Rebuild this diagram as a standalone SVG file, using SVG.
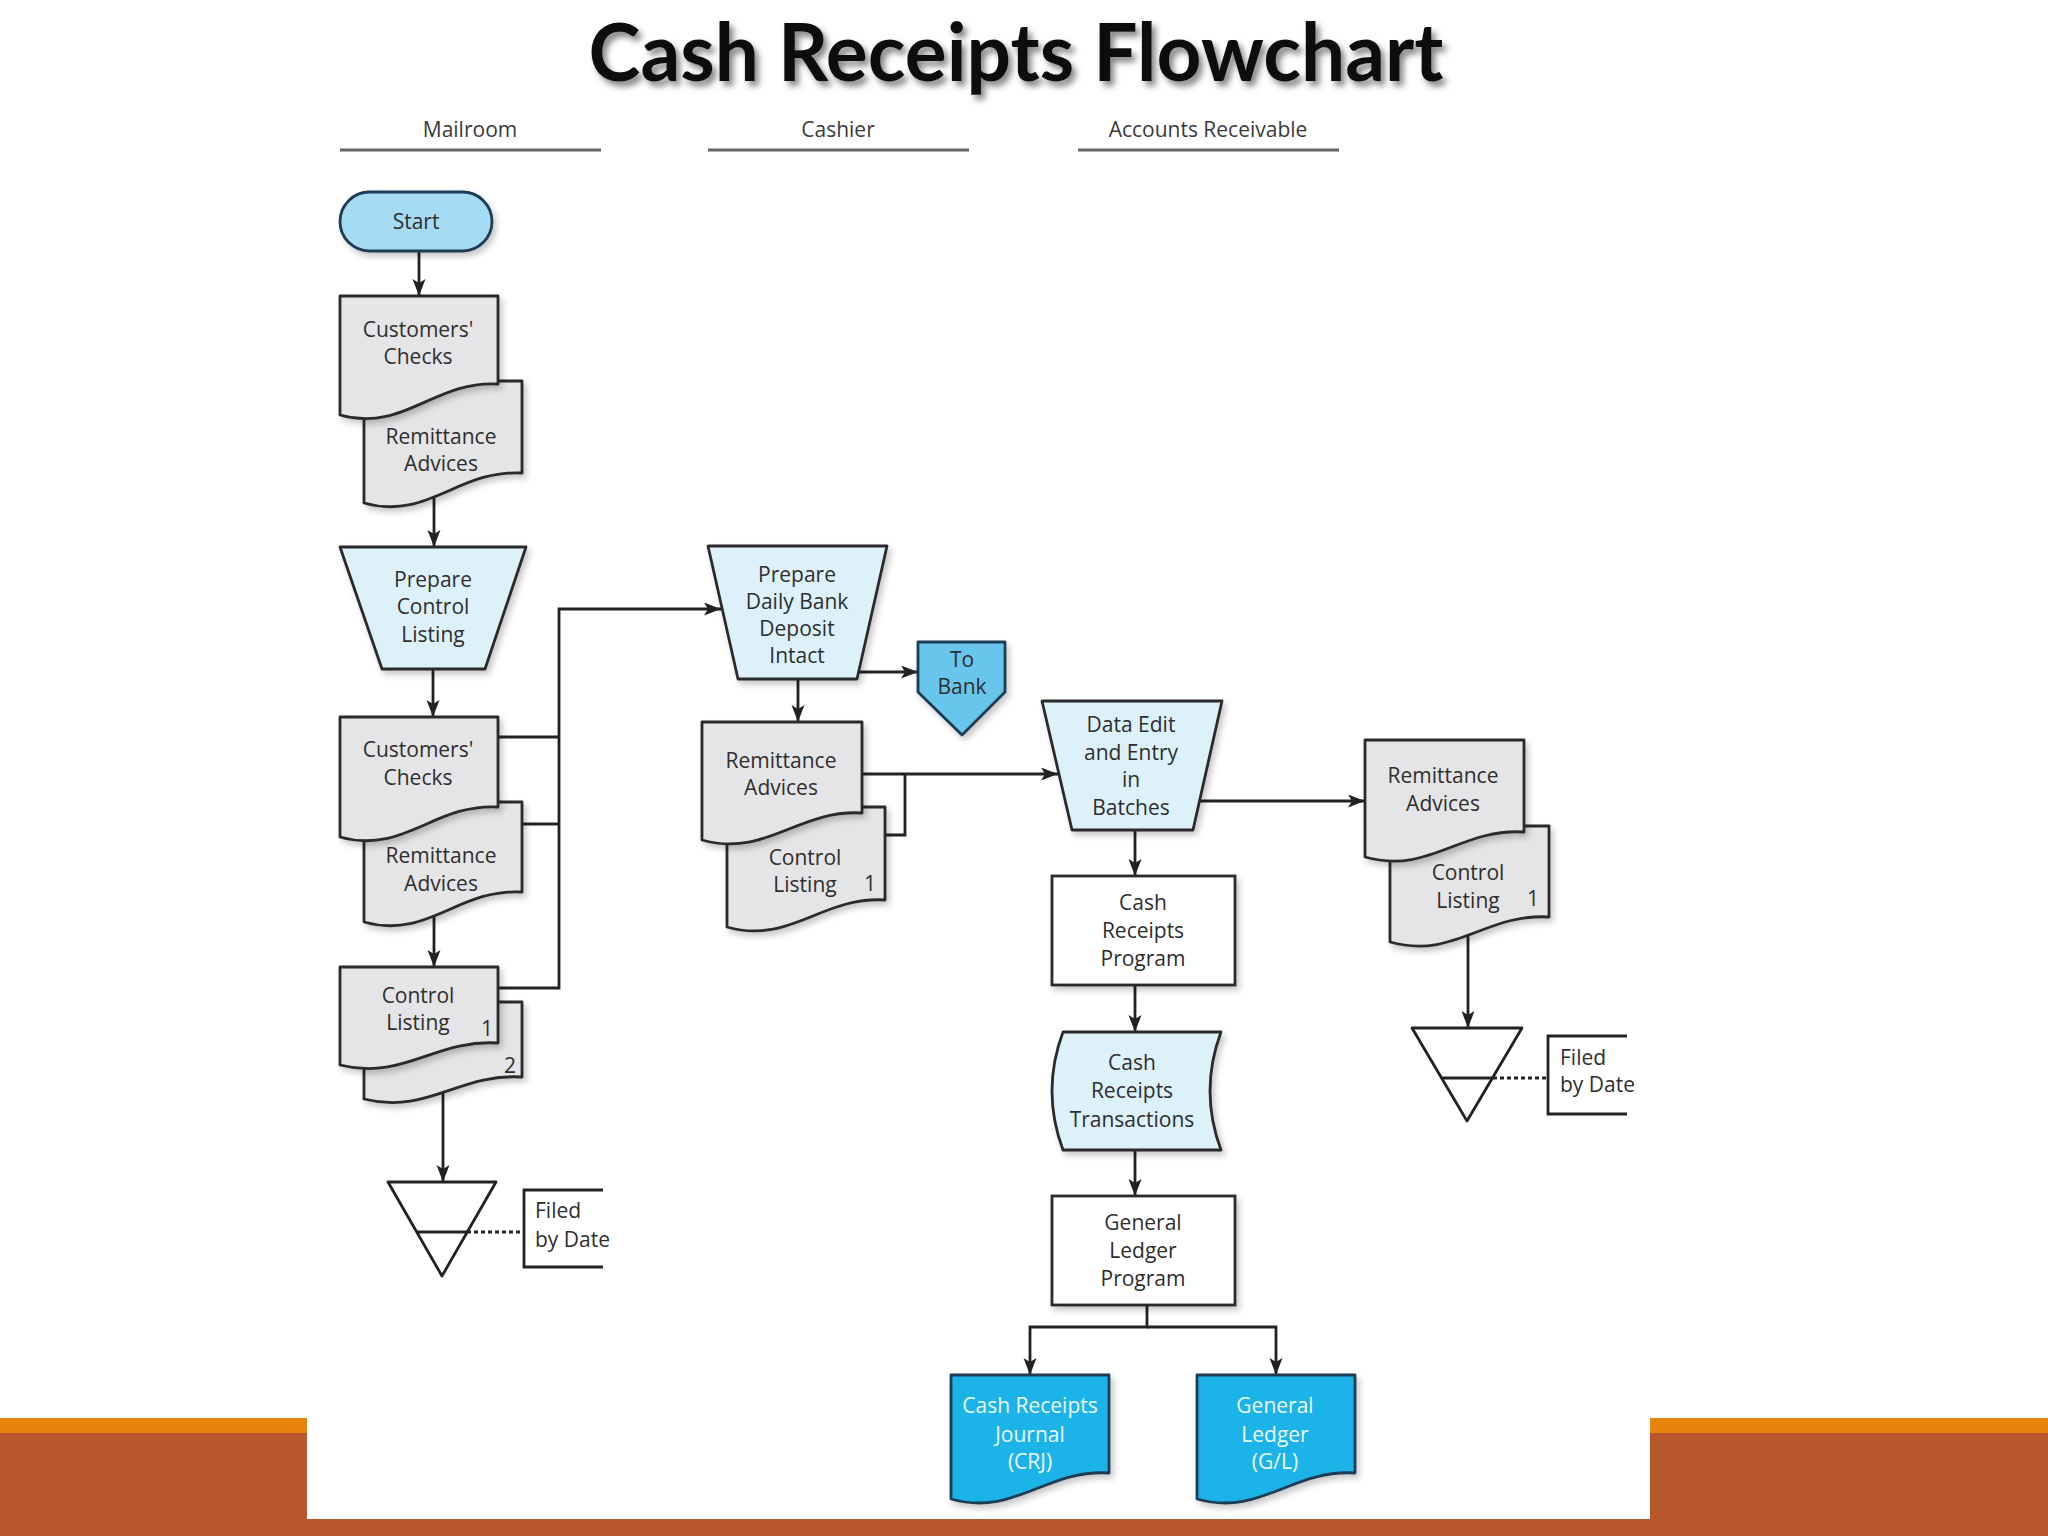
<svg xmlns="http://www.w3.org/2000/svg" width="2048" height="1536" viewBox="0 0 2048 1536">
<defs>
<style>
.t{font-family:"Open Sans","Liberation Sans",sans-serif;font-size:21px;fill:#2e2e2e;text-anchor:middle}
.tl{font-family:"Open Sans","Liberation Sans",sans-serif;font-size:21px;fill:#2e2e2e;text-anchor:start}
.hd{font-family:"Open Sans","Liberation Sans",sans-serif;font-size:21px;fill:#3a3a3a;text-anchor:middle}
.tw{font-family:"Open Sans","Liberation Sans",sans-serif;font-size:21px;fill:#eaf8ff;text-anchor:middle}
.doc{fill:#e5e5e7;stroke:#2b2b2b;stroke-width:2.8;stroke-linejoin:round;filter:url(#sh)}
.man{fill:#ddf1fb;stroke:#2b2b2b;stroke-width:2.8;stroke-linejoin:round;filter:url(#sh)}
.box{fill:#ffffff;stroke:#2b2b2b;stroke-width:2.8;filter:url(#sh)}
.out{fill:#1fb3e8;stroke:#1d3d55;stroke-width:2.8;stroke-linejoin:round;filter:url(#sh)}
.file{fill:#ffffff;stroke:#222;stroke-width:2.8;stroke-linejoin:round}
.ln{fill:none;stroke:#222;stroke-width:2.8}
.ar{fill:none;stroke:#222;stroke-width:2.8;marker-end:url(#ah)}
.dot{fill:none;stroke:#222;stroke-width:2.8;stroke-dasharray:4 3}
.lane{stroke:#666;stroke-width:3}
</style>
<marker id="ah" markerUnits="userSpaceOnUse" markerWidth="18" markerHeight="14" refX="17" refY="6.5" orient="auto">
<path d="M0,0 L17,6.5 L0,13 L4,6.5 Z" fill="#222"/>
</marker>
<filter id="sh" x="-10%" y="-10%" width="130%" height="130%">
<feDropShadow dx="3" dy="4" stdDeviation="3" flood-color="#000" flood-opacity="0.22"/>
</filter>
<filter id="tsh" x="-5%" y="-20%" width="110%" height="150%">
<feDropShadow dx="4" dy="5" stdDeviation="3" flood-color="#666" flood-opacity="0.8"/>
</filter>
</defs>

<rect x="0" y="0" width="2048" height="1536" fill="#ffffff"/>

<!-- bottom decoration -->
<g id="footer">
<rect x="0" y="1418" width="307" height="15" fill="#e8830e"/>
<rect x="1650" y="1418" width="398" height="15" fill="#e8830e"/>
<rect x="0" y="1433" width="307" height="103" fill="#b9572c"/>
<rect x="1650" y="1433" width="398" height="103" fill="#b9572c"/>
<rect x="0" y="1519" width="2048" height="17" fill="#b9572c"/>
</g>

<!-- title -->
<text x="1016" y="81" font-family="Lato,'Liberation Sans',sans-serif" font-weight="bold" font-size="80" text-anchor="middle" textLength="855" lengthAdjust="spacingAndGlyphs" fill="#111" filter="url(#tsh)">Cash Receipts Flowchart</text>

<!-- lanes -->
<g id="lanes">
<text class="hd" x="470" y="137">Mailroom</text>
<line class="lane" x1="340" y1="150" x2="601" y2="150"/>
<text class="hd" x="838" y="137">Cashier</text>
<line class="lane" x1="708" y1="150" x2="969" y2="150"/>
<text class="hd" x="1208" y="137">Accounts Receivable</text>
<line class="lane" x1="1078" y1="150" x2="1339" y2="150"/>
</g>

<!-- connectors -->
<g id="connectors">
<path class="ar" d="M419,251 V296"/>
<path class="ar" d="M434,494 V547"/>
<path class="ar" d="M433,669 V717"/>
<path class="ar" d="M434,912 V967"/>
<path class="ar" d="M443,1092 V1182"/>
<path class="ln" d="M499,737 H559"/>
<path class="ln" d="M523,824 H559"/>
<path class="ar" d="M499,988 H559 V609 H721"/>
<path class="ar" d="M798,679 V722"/>
<path class="ar" d="M858,672 H918"/>
<path class="ar" d="M862,774 H1058"/>
<path class="ln" d="M885,835 H905 V774"/>
<path class="ar" d="M1199,801 H1365"/>
<path class="ar" d="M1135,830 V876"/>
<path class="ar" d="M1135,985 V1032"/>
<path class="ar" d="M1135,1150 V1196"/>
<path class="ar" d="M1147,1305 V1327 H1030 V1375"/>
<path class="ar" d="M1147,1327 H1276 V1375"/>
<path class="ar" d="M1468,934 V1028"/>
<path class="dot" d="M467,1232 H524"/>
<path class="dot" d="M1493,1078 H1548"/>
</g>

<!-- Mailroom -->
<g id="start">
<rect x="340" y="192" width="152" height="59" rx="29.5" fill="#a5dcf4" stroke="#1d3d55" stroke-width="2.8" filter="url(#sh)"/>
<text class="t" x="416" y="229" fill="#1d3d55">Start</text>
</g>

<g id="mail-remittance-1">
<path class="doc" d="M364,381 H522 V473 C459,469 427,521 364,503 Z"/>
<text class="t" x="441" y="444">Remittance</text>
<text class="t" x="441" y="471">Advices</text>
</g>
<g id="mail-checks-1">
<path class="doc" d="M340,296 H498 V384 C435,380 403,433 340,415 Z"/>
<text class="t" x="418" y="337">Customers'</text>
<text class="t" x="418" y="364">Checks</text>
</g>

<g id="prepare-control-listing">
<path class="man" d="M340,547 H526 L485,669 H382 Z"/>
<text class="t" x="433" y="587">Prepare</text>
<text class="t" x="433" y="614">Control</text>
<text class="t" x="433" y="642">Listing</text>
</g>

<g id="mail-remittance-2">
<path class="doc" d="M364,802 H522 V892 C459,888 427,940 364,922 Z"/>
<text class="t" x="441" y="863">Remittance</text>
<text class="t" x="441" y="891">Advices</text>
</g>
<g id="mail-checks-2">
<path class="doc" d="M340,717 H498 V807 C435,803 403,855 340,837 Z"/>
<text class="t" x="418" y="757">Customers'</text>
<text class="t" x="418" y="785">Checks</text>
</g>

<g id="control-listing-2">
<path class="doc" d="M364,1002 H522 V1077 C459,1073 427,1115 364,1099 Z"/>
<text class="t" x="510" y="1073">2</text>
</g>
<g id="control-listing-1">
<path class="doc" d="M340,967 H498 V1043 C435,1039 403,1081 340,1065 Z"/>
<text class="t" x="418" y="1003">Control</text>
<text class="t" x="418" y="1030">Listing</text>
<text class="t" x="487" y="1036">1</text>
</g>

<g id="file-mailroom">
<path class="file" d="M388,1182 H496 L442,1276 Z"/>
<line class="ln" x1="417" y1="1232" x2="467" y2="1232"/>
<path class="ln" d="M603,1190 H524 V1267 H603"/>
<text class="tl" x="535" y="1218">Filed</text>
<text class="tl" x="535" y="1247">by Date</text>
</g>

<!-- Cashier -->
<g id="prepare-deposit">
<path class="man" d="M708,546 H887 L857,679 H738 Z"/>
<text class="t" x="797" y="582">Prepare</text>
<text class="t" x="797" y="609">Daily Bank</text>
<text class="t" x="797" y="636">Deposit</text>
<text class="t" x="797" y="663">Intact</text>
</g>

<g id="to-bank">
<path d="M918,642 H1005 V692 L962,735 L918,692 Z" fill="#67c6ec" stroke="#1d3d55" stroke-width="2.8" stroke-linejoin="round" filter="url(#sh)"/>
<text class="t" x="962" y="667" fill="#1d3d55">To</text>
<text class="t" x="962" y="694" fill="#1d3d55">Bank</text>
</g>

<g id="cashier-control-listing">
<path class="doc" d="M727,807 H885 V900 C822,896 790,945 727,927 Z"/>
<text class="t" x="805" y="865">Control</text>
<text class="t" x="805" y="892">Listing</text>
<text class="t" x="870" y="891">1</text>
</g>
<g id="cashier-remittance">
<path class="doc" d="M702,722 H862 V813 C798,809 766,858 702,840 Z"/>
<text class="t" x="781" y="768">Remittance</text>
<text class="t" x="781" y="795">Advices</text>
</g>

<!-- Accounts Receivable -->
<g id="data-edit">
<path class="man" d="M1042,701 H1222 L1193,830 H1072 Z"/>
<text class="t" x="1131" y="732">Data Edit</text>
<text class="t" x="1131" y="760">and Entry</text>
<text class="t" x="1131" y="787">in</text>
<text class="t" x="1131" y="815">Batches</text>
</g>

<g id="cash-receipts-program">
<rect class="box" x="1052" y="876" width="183" height="109"/>
<text class="t" x="1143" y="910">Cash</text>
<text class="t" x="1143" y="938">Receipts</text>
<text class="t" x="1143" y="966">Program</text>
</g>

<g id="cash-receipts-transactions">
<path class="man" d="M1063,1032 H1221 Q1199,1091 1221,1150 H1063 Q1041,1091 1063,1032 Z"/>
<text class="t" x="1132" y="1070">Cash</text>
<text class="t" x="1132" y="1098">Receipts</text>
<text class="t" x="1132" y="1127">Transactions</text>
</g>

<g id="general-ledger-program">
<rect class="box" x="1052" y="1196" width="183" height="109"/>
<text class="t" x="1143" y="1230">General</text>
<text class="t" x="1143" y="1258">Ledger</text>
<text class="t" x="1143" y="1286">Program</text>
</g>

<g id="crj">
<path class="out" d="M951,1375 H1109 V1473 C1046,1469 1014,1517 951,1499 Z"/>
<text class="tw" x="1030" y="1413">Cash Receipts</text>
<text class="tw" x="1030" y="1442">Journal</text>
<text class="tw" x="1030" y="1469">(CRJ)</text>
</g>

<g id="general-ledger">
<path class="out" d="M1197,1375 H1355 V1473 C1292,1469 1260,1517 1197,1499 Z"/>
<text class="tw" x="1275" y="1413">General</text>
<text class="tw" x="1275" y="1442">Ledger</text>
<text class="tw" x="1275" y="1469">(G/L)</text>
</g>

<g id="ar-control-listing">
<path class="doc" d="M1390,826 H1549 V917 C1485,913 1454,960 1390,942 Z"/>
<text class="t" x="1468" y="880">Control</text>
<text class="t" x="1468" y="908">Listing</text>
<text class="t" x="1533" y="906">1</text>
</g>
<g id="ar-remittance">
<path class="doc" d="M1365,740 H1524 V832 C1460,828 1429,875 1365,857 Z"/>
<text class="t" x="1443" y="783">Remittance</text>
<text class="t" x="1443" y="811">Advices</text>
</g>

<g id="file-ar">
<path class="file" d="M1412,1028 H1522 L1467,1121 Z"/>
<line class="ln" x1="1442" y1="1078" x2="1493" y2="1078"/>
<path class="ln" d="M1627,1036 H1548 V1114 H1627"/>
<text class="tl" x="1560" y="1065">Filed</text>
<text class="tl" x="1560" y="1092">by Date</text>
</g>
</svg>
